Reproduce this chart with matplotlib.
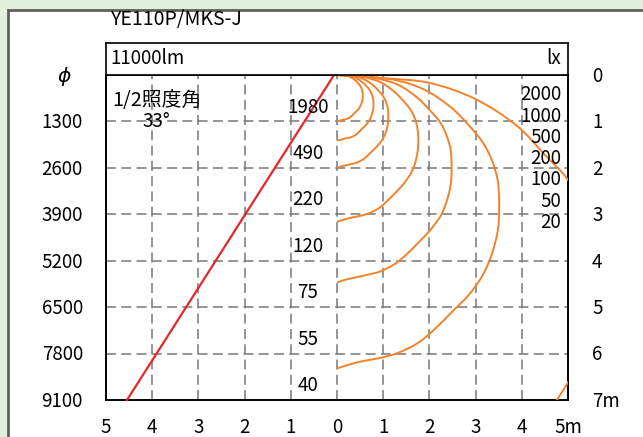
import numpy as np
import matplotlib
matplotlib.use('Agg')
import matplotlib.pyplot as plt
from matplotlib.patches import Rectangle, PathPatch
from matplotlib.path import Path

plt.rcParams['font.family'] = ['Noto Sans CJK JP', 'DejaVu Sans']

# ---------------- data ----------------
model = 'YE110P/MKS-J'
flux_label = '11000lm'
unit_label = 'lx'
half_angle = 33
depth_labels = ['0', '1', '2', '3', '4', '5', '6', '7m']
phi_values = [1300, 2600, 3900, 5200, 6500, 7800, 9100]
center_lux = [1980, 490, 220, 120, 75, 55, 40]
iso_levels = [2000, 1000, 500, 200, 100, 50, 20]
x_ticks = [-5, -4, -3, -2, -1, 0, 1, 2, 3, 4, 5]
x_tick_labels = ['5', '4', '3', '2', '1', '0', '1', '2', '3', '4', '5m']

c2000_x = [0, 0.05, 0.10, 0.20, 0.30, 0.39, 0.45, 0.50, 0.53, 0.55, 0.56, 0.55, 0.53, 0.50, 0.45, 0.40, 0.34, 0.28, 0.21, 0.15, 0.09, 0.04, 0]
c2000_y = [0, 0.002, 0.007, 0.018, 0.05, 0.11, 0.17, 0.23, 0.29, 0.36, 0.45, 0.53, 0.61, 0.68, 0.75, 0.80, 0.86, 0.91, 0.945, 0.962, 0.974, 0.987, 1.0]
c1000_x = [0, 0.07, 0.14, 0.28, 0.42, 0.55, 0.64, 0.71, 0.75, 0.78, 0.79, 0.78, 0.75, 0.71, 0.64, 0.57, 0.48, 0.40, 0.30, 0.21, 0.13, 0.06, 0]
c1000_y = [0, 0.003, 0.01, 0.025, 0.07, 0.16, 0.24, 0.33, 0.41, 0.51, 0.64, 0.75, 0.86, 0.96, 1.06, 1.13, 1.22, 1.29, 1.34, 1.36, 1.38, 1.40, 1.41]
c500_x = [0, 0.10, 0.20, 0.40, 0.60, 0.78, 0.90, 1.00, 1.06, 1.10, 1.11, 1.10, 1.06, 1.00, 0.90, 0.80, 0.68, 0.56, 0.42, 0.30, 0.18, 0.08, 0]
c500_y = [0, 0.004, 0.014, 0.036, 0.10, 0.22, 0.34, 0.46, 0.58, 0.72, 0.90, 1.06, 1.22, 1.36, 1.50, 1.60, 1.72, 1.82, 1.89, 1.92, 1.95, 1.97, 2.0]
c200_x = [0, 0.16, 0.32, 0.63, 0.95, 1.23, 1.42, 1.58, 1.68, 1.74, 1.76, 1.74, 1.68, 1.58, 1.42, 1.27, 1.08, 0.89, 0.66, 0.47, 0.28, 0.13, 0]
c200_y = [0, 0.006, 0.022, 0.057, 0.16, 0.35, 0.54, 0.73, 0.92, 1.14, 1.42, 1.68, 1.93, 2.15, 2.37, 2.53, 2.72, 2.88, 2.99, 3.04, 3.08, 3.12, 3.16]
c100_x = [0, 0.22, 0.45, 0.89, 1.34, 1.74, 2.01, 2.24, 2.37, 2.46, 2.48, 2.46, 2.37, 2.24, 2.01, 1.79, 1.52, 1.25, 0.94, 0.67, 0.40, 0.18, 0]
c100_y = [0, 0.009, 0.03, 0.08, 0.22, 0.49, 0.76, 1.03, 1.30, 1.61, 2.01, 2.37, 2.73, 3.04, 3.35, 3.58, 3.85, 4.07, 4.23, 4.30, 4.36, 4.41, 4.47]
c50_x = [0, 0.32, 0.63, 1.27, 1.90, 2.47, 2.85, 3.16, 3.35, 3.48, 3.51, 3.48, 3.35, 3.16, 2.85, 2.53, 2.15, 1.77, 1.33, 0.95, 0.57, 0.25, 0]
c50_y = [0, 0.013, 0.044, 0.11, 0.32, 0.70, 1.08, 1.46, 1.83, 2.28, 2.85, 3.35, 3.86, 4.30, 4.74, 5.06, 5.44, 5.76, 5.98, 6.09, 6.16, 6.24, 6.32]
c20_x = [0, 0.5, 1.0, 2.0, 3.0, 3.9, 4.5, 5.0, 5.3, 5.5, 5.55, 5.5, 5.3, 5.0, 4.76, 4.5]
c20_y = [0, 0.02, 0.065, 0.17, 0.52, 1.1, 1.72, 2.26, 2.9, 3.6, 4.5, 5.3, 6.1, 6.62, 7.0, 7.4]

curves_x = [c2000_x, c1000_x, c500_x, c200_x, c100_x, c50_x, c20_x]
curves_y = [c2000_y, c1000_y, c500_y, c200_y, c100_y, c50_y, c20_y]

# ---------------- styling ----------------
W, H = 643, 437
ORANGE = '#F4822C'
RED = '#E8262A'
GRID = '#787878'
FS = 13.5


def smooth_path(xs, ys):
    """Bezier path through the given points (chord-length scaled tangents)."""
    pts = np.column_stack([xs, ys]).astype(float)
    n = len(pts)
    tang = np.zeros_like(pts)
    for i in range(n):
        a = pts[max(i - 1, 0)]
        b = pts[min(i + 1, n - 1)]
        d = b - a
        nd = np.hypot(*d)
        tang[i] = d / nd if nd > 0 else 0
    verts = [pts[0]]
    codes = [Path.MOVETO]
    for i in range(n - 1):
        p1, p2 = pts[i], pts[i + 1]
        L = np.hypot(*(p2 - p1))
        verts += [p1 + tang[i] * L / 3, p2 - tang[i + 1] * L / 3, p2]
        codes += [Path.CURVE4] * 3
    return Path(verts, codes)


fig = plt.figure(figsize=(W / 100, H / 100), dpi=100)
fig.patch.set_facecolor('#E2EFDA')

# white panel with grey frame
fig.add_artist(Rectangle((8 / W, -0.05), 1.2, (H - 10) / H + 0.05,
                         transform=fig.transFigure, facecolor='white',
                         edgecolor='#5f5f5f', lw=2.0, zorder=0))

# main axes
L, R, T, B = 106, 568, 75, 400
ax = fig.add_axes([L / W, (H - B) / H, (R - L) / W, (B - T) / H])
ax.set_xlim(-5, 5)
ax.set_ylim(7, 0)
ax.set_xticks([])
ax.set_yticks([])
for s in ax.spines.values():
    s.set_linewidth(1.4)
    s.set_color('black')
ax.patch.set_alpha(0)

for x in x_ticks[1:-1]:
    ax.axvline(x, color=GRID, lw=1.1, ls=(0, (6.5, 3.5)), zorder=1)
for d in range(1, 7):
    ax.axhline(d, color=GRID, lw=1.1, ls=(0, (6.5, 3.5)), zorder=1)

# half illuminance angle line
t = np.tan(np.radians(half_angle))
ax.plot([0.0, -7 * t], [-0.1, 7], color=RED, lw=1.6, zorder=3, clip_on=False)

# isolux curves
for cx, cy in zip(curves_x, curves_y):
    p = PathPatch(smooth_path(cx, cy), facecolor='none', edgecolor=ORANGE,
                  lw=1.4, zorder=3)
    ax.add_patch(p)

# tick labels
for x, lab in zip(x_ticks, x_tick_labels):
    ax.text(x, 7.6, lab, ha='center', va='center', fontsize=FS, clip_on=False)
for d, lab in enumerate(depth_labels):
    ax.text(5.52, d + 0.03, lab, ha='left', va='center', fontsize=FS, clip_on=False)
ax.text(-5.9, 0.03, r'$\phi$', ha='center', va='center', fontsize=FS + 1, clip_on=False)
for d, v in enumerate(phi_values, start=1):
    ax.text(-5.5, d + 0.03, str(v), ha='right', va='center', fontsize=FS, clip_on=False)

# centre illuminance
for d, v in enumerate(center_lux, start=1):
    ax.text(-0.63, d - 0.31, str(v), ha='center', va='center', fontsize=FS, zorder=4)

# legend of isolux levels
for i, v in enumerate(iso_levels):
    ax.text(4.85, 0.43 + 0.457 * i, str(v), ha='right', va='center', fontsize=FS, zorder=4)

# half angle annotation
ax.text(-4.87, 0.54, '1/2照度角', ha='left', va='center', fontsize=FS + 0.8)
ax.text(-3.9, 1.01, f'{half_angle}°', ha='center', va='center', fontsize=FS)

# header box
HT = 43
hx = fig.add_axes([L / W, (H - T) / H, (R - L) / W, (T - HT) / H])
hx.set_xticks([])
hx.set_yticks([])
for s in hx.spines.values():
    s.set_linewidth(1.2)
hx.text(0.01, 0.5, flux_label, ha='left', va='center', fontsize=FS, transform=hx.transAxes)
hx.text(0.985, 0.5, unit_label, ha='right', va='center', fontsize=FS, transform=hx.transAxes)

# title
fig.text(110 / W, 1 - 20 / H, model, ha='left', va='center', fontsize=FS + 0.5)

fig.savefig('out.png', dpi=100, facecolor=fig.get_facecolor())
